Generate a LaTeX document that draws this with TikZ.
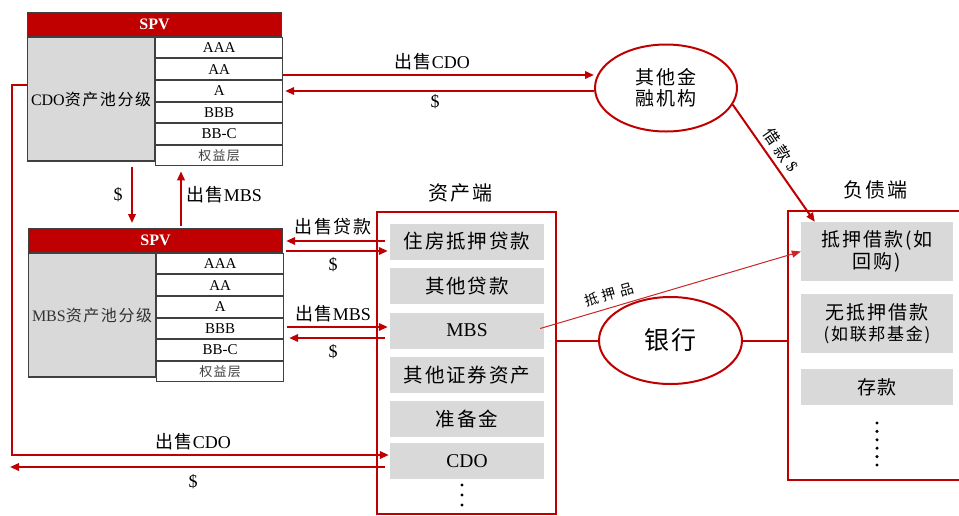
\documentclass[tikz,border=0pt]{standalone}
\usepackage{fontspec}
\setmainfont{Liberation Serif}
\newfontfamily\cjk[LetterSpace=10]{Noto Sans CJK SC}
\newfontfamily\cjkwide[LetterSpace=30]{Noto Sans CJK SC}
\usetikzlibrary{shapes.geometric,arrows.meta,calc}
\definecolor{myred}{RGB}{192,0,0}
\definecolor{boxgrey}{RGB}{217,217,217}
\definecolor{edgegrey}{RGB}{64,64,64}
\newcommand\zh[1]{{\cjk #1}}
\newcommand\fsz[1]{\fontsize{#1}{#1}\selectfont}
\begin{document}
\begin{tikzpicture}[x=1pt,y=-1pt,
  arr/.style={draw=myred, line width=2pt, -{Triangle[length=9pt,width=7.5pt]}},
  thinarr/.style={draw=myred!85, line width=1pt, -{Triangle[length=9pt,width=7pt]}},
  ln/.style={draw=myred, line width=2pt},
  spvhead/.style={fill=myred, draw=edgegrey, line width=1.2pt, text=white, font=\bfseries\fsz{16}, minimum width=254pt, minimum height=23.5pt, inner sep=0pt, anchor=north west},
  pool/.style={fill=boxgrey, draw=edgegrey, line width=1.2pt, minimum width=127pt, minimum height=123.6pt, inner sep=0pt, font=\fsz{16}, anchor=north west},
  tier/.style={draw=edgegrey, line width=1pt, minimum width=127pt, minimum height=20.6pt, inner sep=0pt, font=\fsz{15}},
  frame/.style={draw=myred, line width=2pt, inner sep=0pt, anchor=north west},
  item/.style={fill=boxgrey, minimum width=154pt, minimum height=36pt, inner sep=0pt, font=\fsz{19.5}, align=center},
  ritem/.style={fill=boxgrey, minimum width=152pt, inner sep=0pt, font=\cjk\fsz{19}, align=center},
  oval/.style={ellipse, draw=myred, line width=2pt, inner sep=0pt, align=center},
  lbl/.style={font=\fsz{18}, inner sep=0pt},
  title/.style={font=\cjk\fsz{20}, inner sep=0pt}
]
\path[use as bounding box, fill=white] (0,0) rectangle (959,515);
\clip (0,0) rectangle (959,515);

% ---------- top SPV (CDO) ----------
\node[spvhead] (ta) at (27,12) {SPV};
\node[pool] (tp) at (ta.south west) {CDO\zh{资产池分级}};
\node[tier, anchor=north west] (t1) at (tp.north east) {AAA};
\node[tier, anchor=north] (t2) at (t1.south) {AA};
\node[tier, anchor=north] (t3) at (t2.south) {A};
\node[tier, anchor=north] (t4) at (t3.south) {BBB};
\node[tier, anchor=north] (t5) at (t4.south) {BB-C};
\node[tier, anchor=north, font=\cjk\fsz{13}, text=edgegrey] (t6) at (t5.south) {权益层};

% ---------- bottom SPV (MBS) ----------
\node[spvhead] (ba) at (28,228) {SPV};
\node[pool, text=edgegrey!80!black] (bp) at (ba.south west) {MBS\zh{资产池分级}};
\node[tier, anchor=north west] (b1) at (bp.north east) {AAA};
\node[tier, anchor=north] (b2) at (b1.south) {AA};
\node[tier, anchor=north] (b3) at (b2.south) {A};
\node[tier, anchor=north] (b4) at (b3.south) {BBB};
\node[tier, anchor=north] (b5) at (b4.south) {BB-C};
\node[tier, anchor=north, font=\cjk\fsz{13}, text=edgegrey] (b6) at (b5.south) {权益层};

% ---------- asset side ----------
\node[title] (atitle) at (460,193) {资产端};
\node[frame, minimum width=179pt, minimum height=302pt] (assets) at (376,211) {};
\node[item] (i1) at (467,241.5) {\zh{住房抵押贷款}};
\node[item] (i2) at (467,286) {\zh{其他贷款}};
\node[item] (i3) at (467,330.5) {MBS};
\node[item] (i4) at (467,375) {\zh{其他证券资产}};
\node[item] (i5) at (467,419) {\zh{准备金}};
\node[item] (i6) at (467,461) {CDO};
\foreach \k in {0,1,2} \fill (462,485+10*\k) circle (1.7pt);

% ---------- liability side ----------
\node[title] (ltitle) at (875,190) {负债端};
\node[frame, minimum width=200pt, minimum height=269pt] (liab) at (787,210) {};
\node[ritem, minimum height=59pt] (r1) at (877,251.5) {抵押借款(如\\[2pt]回购)};
\node[ritem, minimum height=59pt] (r2) at (877,323.5) {无抵押借款\\[2pt]{\fsz{17}(如联邦基金)}};
\node[ritem, minimum height=36pt] (r3) at (877,387) {存款};
\foreach \k in {0,...,5} \fill (877,423+8.4*\k) circle (1.7pt);

% ---------- ellipses ----------
\node[oval, minimum width=142pt, minimum height=87pt, font=\cjk\fsz{19}] (fin) at (666,88) {其他金\\[2pt]融机构};
\node[oval, minimum width=143pt, minimum height=87pt, font=\cjk\fsz{25}] (bank) at (670.5,340.5) {银行};

% ---------- helper coordinates ----------
\coordinate (y75) at (0,75);
\coordinate (y91) at (0,91);
\coordinate (y85) at (0,85);
\coordinate (cL) at (12,455);
\coordinate (cR) at (385,467);
\coordinate (cE) at (10,467);
\coordinate (xa) at (132,0);
\coordinate (xb) at (181,0);
\coordinate (y241) at (0,241);
\coordinate (y251) at (0,251);
\coordinate (y327) at (0,327);
\coordinate (y338) at (0,338);

% ---------- connectors ----------
\draw[arr] (t2.east |- y75) -- (fin.west |- y75);
\draw[arr] (fin.west |- y91) -- ([xshift=2pt]t3.east |- y91);
\draw[arr, shorten >=1pt] (tp.west |- y85) -| (cL) -- (i6.west |- cL);
\draw[arr] (cR) -- (cE);

\draw[arr] ([yshift=-5pt]tp.south -| xa) -- ([yshift=5pt]ba.north -| xa);
\draw[arr] ([yshift=2pt]ba.north -| xb) -- ([yshift=-5pt]t6.south -| xb);

\draw[arr] ([xshift=-5pt]i1.west |- y241) -- ([xshift=3pt]ba.east |- y241);
\draw[arr] ([xshift=3pt]ba.east |- y251) -- ([xshift=-2pt]i1.west |- y251);
\draw[arr] ([xshift=3pt]b4.east |- y327) -- ([xshift=-2pt]i3.west |- y327);
\draw[arr] ([xshift=-5pt]i3.west |- y338) -- ([xshift=5pt]b5.east |- y338);

\draw[ln] (assets.east |- bank) -- (bank.west);
\draw[ln] (bank.east) -- (liab.west |- bank);

\draw[thinarr] ([xshift=-4pt,yshift=2pt]i3.east) -- (r1.west);
\draw[arr] (fin.-14) -- ([xshift=14pt]r1.north west);

% ---------- labels ----------
\node[lbl] (l1) at (432,62) {\zh{出售}CDO};
\node[lbl] (l2) at (435,102) {\$};
\node[lbl] (l3) at (118,195) {\$};
\node[lbl] (l4) at (224,195) {\zh{出售}MBS};
\node[lbl] (l5) at (333,227) {\zh{出售贷款}};
\node[lbl] (l6) at (333,265) {\$};
\node[lbl] (l7) at (333,314) {\zh{出售}MBS};
\node[lbl] (l8) at (333,352) {\$};
\node[lbl] (l9) at (193,442) {\zh{出售}CDO};
\node[lbl] (l10) at (193,482) {\$};
\node[lbl, font=\cjkwide\fsz{14}, rotate=16] (l11) at (609,294) {抵押品};
\node[lbl, font=\fsz{16}, rotate=-55] (l12) at (781,150) {{\cjkwide 借款}\hspace{4pt}\$};
\end{tikzpicture}
\end{document}
